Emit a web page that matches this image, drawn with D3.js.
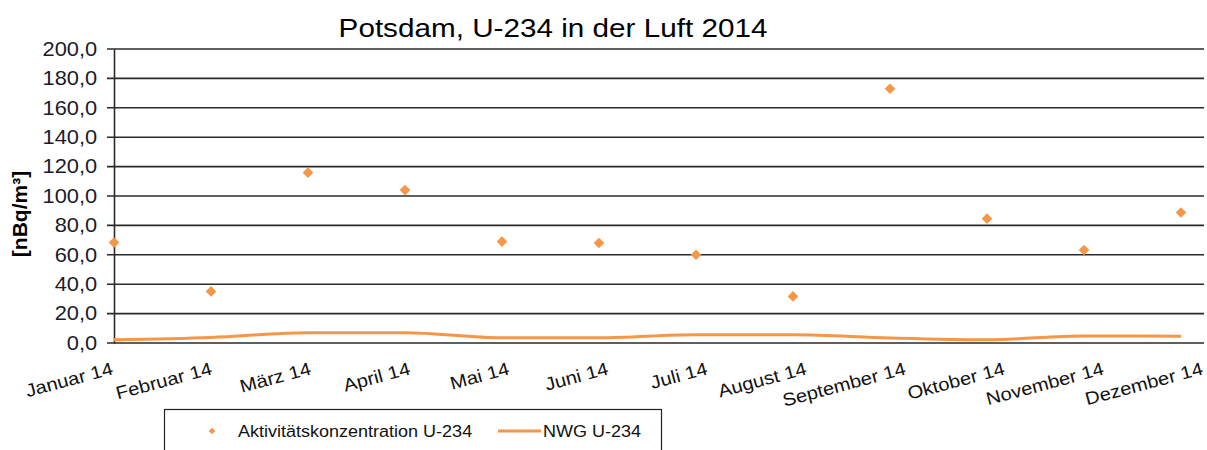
<!DOCTYPE html>
<html>
<head>
<meta charset="utf-8">
<script src="https://cdn.jsdelivr.net/npm/d3@7"></script>
<style>
  body { margin: 0; background: #fff; }
  svg { font-family: "Liberation Sans", Arial, sans-serif; }
</style>
</head>
<body>
<div id="chart"></div>
<script>
const months = ['Januar 14', 'Februar 14', 'März 14', 'April 14', 'Mai 14', 'Juni 14',
  'Juli 14', 'August 14', 'September 14', 'Oktober 14', 'November 14', 'Dezember 14'];

const activity = [68.4, 35.1, 115.9, 104.0, 69.0, 68.0, 60.0, 31.7, 173.0, 84.6, 63.3, 88.8];

const nwg = [2.2, 3.8, 7.0, 7.0, 3.6, 3.6, 5.6, 5.6, 3.4, 2.2, 4.8, 4.6];

const yTicks = [0, 20, 40, 60, 80, 100, 120, 140, 160, 180, 200];

const orange = '#f79646';
const stretch = 1.12; // the original text is a bit wider than Liberation Sans

const width = 1207, height = 450;
const margin = { left: 114, right: 1204, top: 49, bottom: 343 };

const svg = d3.select('#chart').append('svg')
  .attr('width', width)
  .attr('height', height);

const x = d3.scalePoint().domain(months).range([margin.left, 1181]);
// month labels are spread over the full plot width
const xLabel = d3.scalePoint().domain(months).range([margin.left, margin.right]);
const y = d3.scaleLinear().domain([0, 200]).range([margin.bottom, margin.top]);

// title
svg.append('text')
  .attr('transform', 'translate(553,37) scale(' + stretch + ',1)')
  .attr('text-anchor', 'middle')
  .style('font-size', '26.5px')
  .attr('fill', '#000')
  .text('Potsdam, U-234 in der Luft 2014');

// gridlines
svg.append('g').selectAll('line')
  .data(yTicks)
  .enter().append('line')
    .attr('x1', margin.left - 7).attr('x2', margin.right)
    .attr('y1', d => y(d)).attr('y2', d => y(d))
    .attr('stroke', '#2a2a2a')
    .attr('stroke-width', 1.6);

// y axis
const yAxis = d3.axisLeft(y)
  .tickValues(yTicks)
  .tickSize(0)
  .tickPadding(15)
  .tickFormat(d => d3.format('.1f')(d).replace('.', ','));
const gy = svg.append('g')
  .attr('transform', 'translate(' + margin.left + ',0)')
  .call(yAxis);
gy.select('.domain').attr('stroke', '#2a2a2a').attr('stroke-width', 1.6);
gy.selectAll('text')
  .style('font-size', '19.5px')
  .attr('fill', '#1a1a2a')
  .attr('transform', 'scale(' + stretch + ',1)');

// y title
svg.append('text')
  .attr('transform', 'translate(27,' + 214 + ') rotate(-90)')
  .attr('text-anchor', 'middle')
  .style('font-size', '21px')
  .style('font-weight', 'bold')
  .text('[nBq/m³]');

// x labels
svg.append('g').selectAll('text')
  .data(months)
  .enter().append('text')
    .attr('text-anchor', 'end')
    .attr('transform', d => 'translate(' + xLabel(d) + ',374) rotate(-15) scale(' + stretch + ',1)')
    .style('font-size', '18px')
    .attr('fill', '#111')
    .text(d => d);

// NWG line
const line = d3.line()
  .x((d, i) => x(months[i]))
  .y(d => y(d))
  .curve(d3.curveMonotoneX);

svg.append('path')
  .datum(nwg)
  .attr('d', line)
  .attr('fill', 'none')
  .attr('stroke', orange)
  .attr('stroke-width', 3);

// activity markers
const diamond = d3.symbol().type(d3.symbolDiamond2).size(72);
svg.append('g').selectAll('path')
  .data(activity)
  .enter().append('path')
    .attr('d', diamond)
    .attr('transform', (d, i) => 'translate(' + x(months[i]) + ',' + y(d) + ')')
    .attr('fill', orange);

// legend
const legend = svg.append('g');
legend.append('rect')
  .attr('x', 164.5).attr('y', 409.5)
  .attr('width', 497).attr('height', 60)
  .attr('fill', '#fff')
  .attr('stroke', '#222')
  .attr('stroke-width', 1.2);
legend.append('path')
  .attr('d', d3.symbol().type(d3.symbolDiamond2).size(28))
  .attr('transform', 'translate(212,431)')
  .attr('fill', orange);
legend.append('text')
  .attr('transform', 'translate(238,437) scale(1.06,1)')
  .style('font-size', '17px')
  .attr('fill', '#111')
  .text('Aktivitätskonzentration U-234');
legend.append('line')
  .attr('x1', 498).attr('x2', 541)
  .attr('y1', 431).attr('y2', 431)
  .attr('stroke', orange)
  .attr('stroke-width', 3);
legend.append('text')
  .attr('transform', 'translate(543,437) scale(1.06,1)')
  .style('font-size', '17px')
  .attr('fill', '#111')
  .text('NWG U-234');
</script>
</body>
</html>
